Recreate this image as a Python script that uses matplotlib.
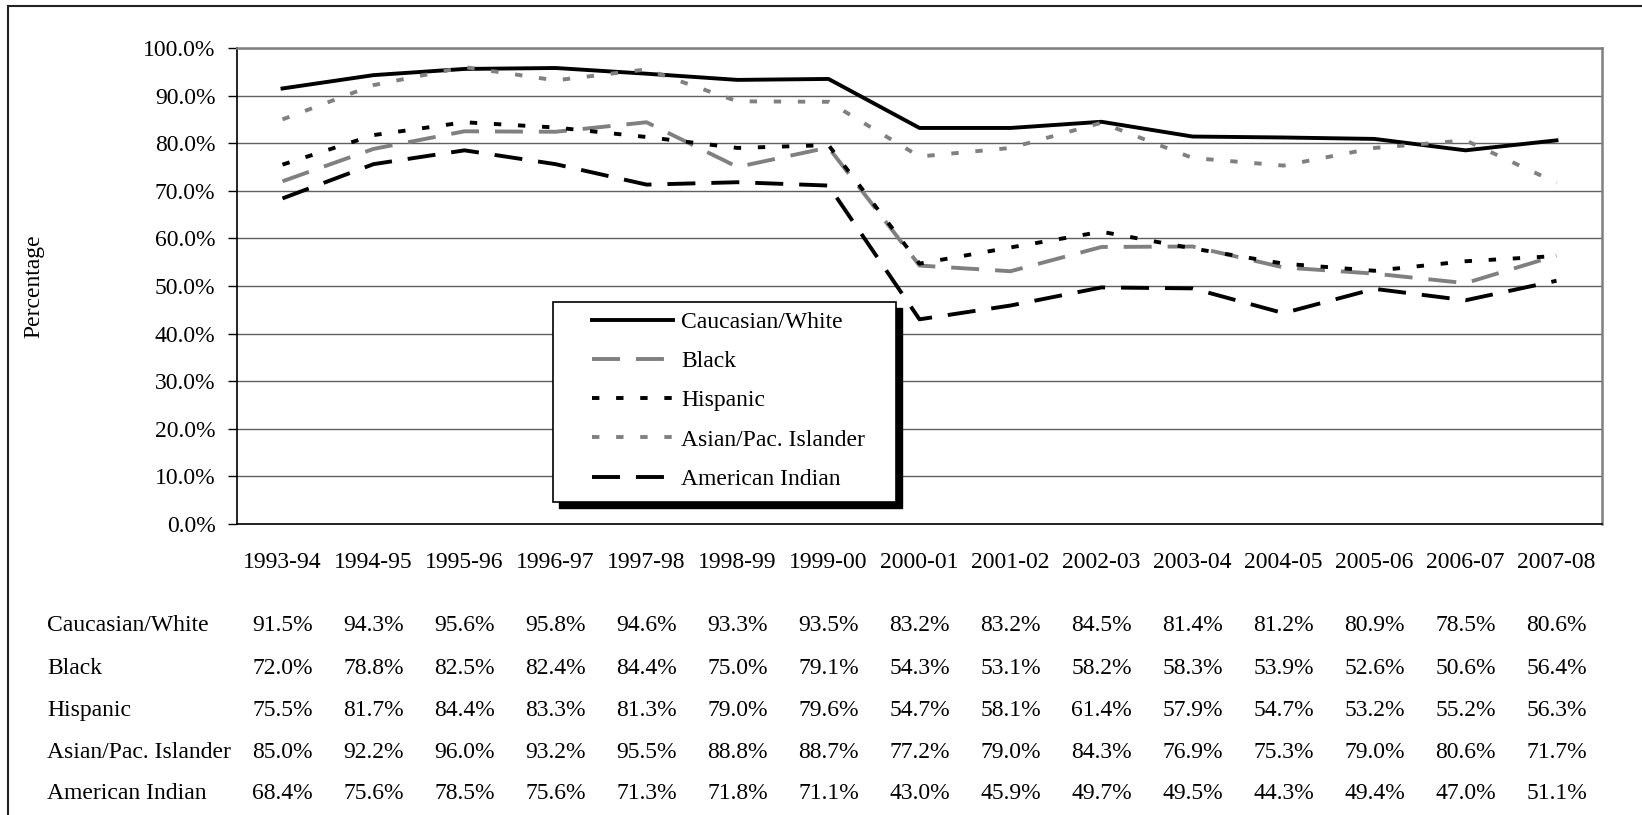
import numpy as np
import matplotlib
matplotlib.use("Agg")
import matplotlib.pyplot as plt
from matplotlib.patches import Rectangle
from matplotlib.transforms import blended_transform_factory

plt.rcParams['font.family'] = ['Liberation Serif', 'DejaVu Serif']

years = ['1993-94', '1994-95', '1995-96', '1996-97', '1997-98', '1998-99', '1999-00',
         '2000-01', '2001-02', '2002-03', '2003-04', '2004-05', '2005-06', '2006-07', '2007-08']

groups = ['Caucasian/White', 'Black', 'Hispanic', 'Asian/Pac. Islander', 'American Indian']

white = [91.5, 94.3, 95.6, 95.8, 94.6, 93.3, 93.5, 83.2, 83.2, 84.5, 81.4, 81.2, 80.9, 78.5, 80.6]
black = [72.0, 78.8, 82.5, 82.4, 84.4, 75.0, 79.1, 54.3, 53.1, 58.2, 58.3, 53.9, 52.6, 50.6, 56.4]
hispanic = [75.5, 81.7, 84.4, 83.3, 81.3, 79.0, 79.6, 54.7, 58.1, 61.4, 57.9, 54.7, 53.2, 55.2, 56.3]
asian = [85.0, 92.2, 96.0, 93.2, 95.5, 88.8, 88.7, 77.2, 79.0, 84.3, 76.9, 75.3, 79.0, 80.6, 71.7]
amer_indian = [68.4, 75.6, 78.5, 75.6, 71.3, 71.8, 71.1, 43.0, 45.9, 49.7, 49.5, 44.3, 49.4, 47.0, 51.1]

series = [white, black, hispanic, asian, amer_indian]

W, H = 1642, 815
fig = plt.figure(figsize=(W / 100, H / 100), dpi=100)

# plot area in pixels: x 237..1602, y 48..524
ax = fig.add_axes([237 / W, 1 - 524 / H, (1602 - 237) / W, (524 - 48) / H])

fs = 17
lw = 2.8
gray = '#808080'
styles = [
    dict(color='black', linestyle='-'),
    dict(color=gray, dashes=(7.2, 4.1)),
    dict(color='black', dashes=(1.9, 4.3)),
    dict(color=gray, dashes=(1.9, 4.3)),
    dict(color='black', dashes=(7.2, 4.1)),
]

x = np.arange(len(years))
handles = []
for name, vals, st in zip(groups, series, styles):
    ln, = ax.plot(x, vals, lw=lw, label=name, zorder=3, **st)
    handles.append(ln)

ax.set_xlim(-0.5, len(years) - 0.5)
ax.set_ylim(0, 100)
ax.set_yticks(np.arange(0, 101, 10))
ax.set_yticklabels([f'{v:.1f}%' for v in np.arange(0, 101, 10)], fontsize=fs)
ax.set_xticks(x)
ax.set_xticklabels(years, fontsize=fs)
ax.tick_params(axis='x', length=0, pad=20.5)
ax.tick_params(axis='y', direction='out', length=6.5, width=1, pad=9)
ax.grid(axis='y', color='#606060', lw=1)
ax.set_axisbelow(True)
for s in ['left', 'bottom']:
    ax.spines[s].set_color('black')
    ax.spines[s].set_linewidth(1.2)
for s in ['top', 'right']:
    ax.spines[s].set_color(gray)
    ax.spines[s].set_linewidth(1.8)

ax.set_ylabel('Percentage', fontsize=fs)
ax.yaxis.set_label_coords((44 - 237) / (1602 - 237), 0.5)

# legend box with black shadow
def ax_xy(px, py):
    return (px - 237) / (1602 - 237), (524 - py) / (524 - 48)

bx0, by0 = ax_xy(553, 502)
bx1, by1 = ax_xy(896, 302)
sx0, sy0 = ax_xy(559, 508)
ax.add_patch(Rectangle((sx0, sy0), bx1 - bx0, by1 - by0, transform=ax.transAxes,
                       facecolor='black', edgecolor='black', zorder=6, clip_on=False))
ax.add_patch(Rectangle((bx0, by0), bx1 - bx0, by1 - by0, transform=ax.transAxes,
                       facecolor='white', edgecolor='black', lw=1.2, zorder=7, clip_on=False))
lx, ly = ax_xy(592, 311.5)
leg = ax.legend(handles=handles, loc='upper left', bbox_to_anchor=(lx, ly), frameon=False,
                fontsize=fs, borderpad=0, borderaxespad=0, handlelength=3.44,
                handletextpad=0.35, labelspacing=0.75)
leg.set_zorder(8)

# data table under the chart
tr = blended_transform_factory(ax.transData, fig.transFigure)
baselines = [631, 674, 716, 758, 799]
for name, vals, b in zip(groups, series, baselines):
    fig.text(47 / W, 1 - b / H, name, fontsize=fs, va='baseline', ha='left')
    for i, v in enumerate(vals):
        ax.text(i, 1 - b / H, f'{v:.1f}%', transform=tr, fontsize=fs,
                va='baseline', ha='center', clip_on=False)

# outer frame
fig.add_artist(Rectangle((8 / W, -0.2), 1.2, 1.2 - 6 / H, transform=fig.transFigure,
                         facecolor='none', edgecolor='#222222', lw=1.5))

fig.savefig('out.png', dpi=100)
